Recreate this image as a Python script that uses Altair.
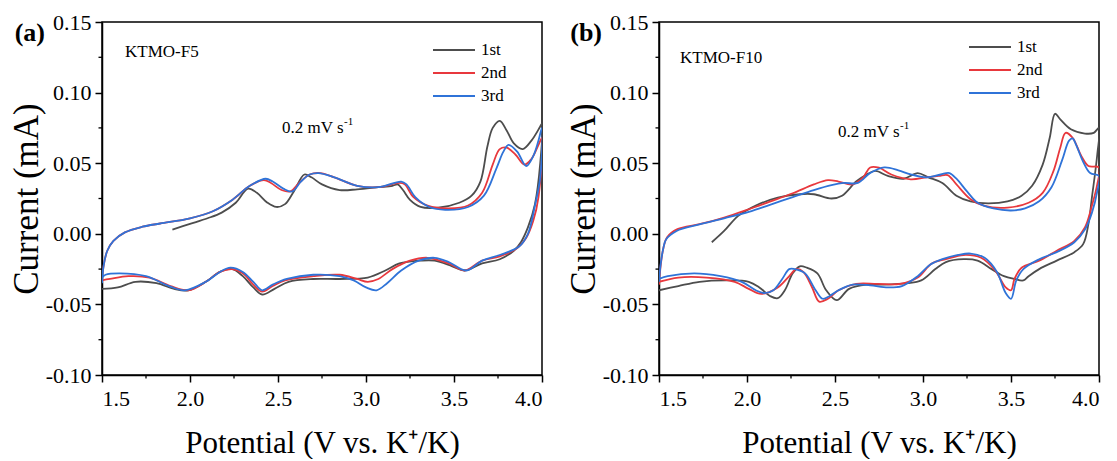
import altair as alt
import pandas as pd

CYCLES = ["1st", "2nd", "3rd"]
COLORS = ["#4d4d4d", "#e8383d", "#2f73d8"]

X_TICKS = [1.5, 2.0, 2.5, 3.0, 3.5, 4.0]
X_MINOR = [1.75, 2.25, 2.75, 3.25, 3.75]
Y_TICKS = [-0.10, -0.05, 0.0, 0.05, 0.10, 0.15]
Y_MINOR = [-0.075, -0.025, 0.025, 0.075, 0.125]

# ---------- Panel (a) KTMO-F5 ----------
A1_V = [1.90, 2.00, 2.10, 2.18, 2.26, 2.33, 2.38, 2.44, 2.49, 2.54, 2.59, 2.65, 2.69, 2.75, 2.85, 2.95,
        3.07, 3.15, 3.18, 3.21, 3.25, 3.31, 3.41, 3.53, 3.60, 3.65, 3.69, 3.72, 3.76, 3.80, 3.84, 3.89,
        3.94, 3.99, 4.00,
        3.99, 3.96, 3.92, 3.88, 3.84, 3.76, 3.66, 3.56, 3.49, 3.39, 3.31, 3.19, 3.11, 3.01, 2.85, 2.70,
        2.56, 2.48, 2.41, 2.36, 2.30, 2.24, 2.17, 2.09, 1.99, 1.91, 1.81, 1.69, 1.59, 1.50]
A1_I = [0.003, 0.007, 0.011, 0.015, 0.022, 0.032, 0.029, 0.022, 0.019, 0.021, 0.030, 0.042, 0.040, 0.035,
        0.031, 0.0315, 0.033, 0.034, 0.035, 0.031, 0.024, 0.019, 0.0185, 0.022, 0.027, 0.037, 0.062,
        0.075, 0.080, 0.073, 0.064, 0.060, 0.066, 0.076, 0.078,
        0.050, 0.021, 0.0045, -0.006, -0.012, -0.018, -0.021, -0.026, -0.023, -0.019, -0.019, -0.021,
        -0.026, -0.031, -0.032, -0.032, -0.034, -0.039, -0.043, -0.038, -0.030, -0.025, -0.027, -0.034,
        -0.040, -0.039, -0.035, -0.034, -0.038, -0.039]

A2_V = [1.50, 1.51, 1.53, 1.565, 1.63, 1.73, 1.83, 2.00, 2.13, 2.24, 2.34, 2.42, 2.46, 2.52, 2.57, 2.62,
        2.68, 2.74, 2.82, 2.95, 3.07, 3.19, 3.22, 3.27, 3.35, 3.47, 3.58, 3.66, 3.72, 3.76, 3.80, 3.85,
        3.90, 3.94, 3.98, 4.00,
        3.98, 3.95, 3.91, 3.86, 3.76, 3.66, 3.56, 3.47, 3.35, 3.25, 3.15, 3.07, 3.01, 2.95, 2.85, 2.70,
        2.54, 2.47, 2.41, 2.36, 2.30, 2.24, 2.17, 2.09, 1.99, 1.89, 1.77, 1.65, 1.545, 1.50]
A2_I = [-0.033, -0.022, -0.012, -0.005, 0.001, 0.005, 0.0073, 0.011, 0.016, 0.024, 0.034, 0.038, 0.036,
        0.031, 0.030, 0.036, 0.042, 0.043, 0.040, 0.034, 0.033, 0.036, 0.035, 0.026, 0.020, 0.018, 0.020,
        0.029, 0.049, 0.060, 0.061, 0.056, 0.049, 0.053, 0.063, 0.068,
        0.026, 0.009, -0.003, -0.010, -0.016, -0.019, -0.026, -0.021, -0.017, -0.019, -0.025, -0.032,
        -0.034, -0.032, -0.029, -0.030, -0.033, -0.037, -0.041, -0.036, -0.028, -0.025, -0.027, -0.034,
        -0.040, -0.037, -0.031, -0.030, -0.032, -0.033]

A3_V = [1.50, 1.51, 1.53, 1.565, 1.63, 1.73, 1.83, 2.00, 2.13, 2.24, 2.34, 2.43, 2.47, 2.53, 2.58, 2.63,
        2.68, 2.73, 2.82, 2.95, 3.07, 3.20, 3.23, 3.28, 3.36, 3.45, 3.58, 3.67, 3.74, 3.78, 3.81, 3.86,
        3.91, 3.95, 3.98, 4.00,
        3.99, 3.96, 3.92, 3.87, 3.76, 3.66, 3.57, 3.47, 3.39, 3.30, 3.20, 3.12, 3.06, 3.00, 2.93, 2.85,
        2.70, 2.55, 2.47, 2.41, 2.36, 2.30, 2.23, 2.17, 2.09, 1.97, 1.88, 1.75, 1.60, 1.52, 1.50]
A3_I = [-0.035, -0.022, -0.012, -0.005, 0.001, 0.005, 0.0073, 0.011, 0.016, 0.024, 0.034, 0.039, 0.037,
        0.032, 0.030, 0.037, 0.042, 0.043, 0.040, 0.034, 0.033, 0.037, 0.035, 0.026, 0.019, 0.017, 0.019,
        0.027, 0.046, 0.058, 0.063, 0.058, 0.048, 0.055, 0.066, 0.075,
        0.040, 0.020, 0.000, -0.009, -0.015, -0.019, -0.026, -0.020, -0.017, -0.019, -0.026, -0.035,
        -0.040, -0.038, -0.033, -0.030, -0.029, -0.032, -0.036, -0.040, -0.034, -0.027, -0.024, -0.027,
        -0.034, -0.040, -0.037, -0.030, -0.028, -0.029, -0.031]

# ---------- Panel (b) KTMO-F10 ----------
B1_V = [1.80, 1.87, 1.95, 2.05, 2.175, 2.30, 2.38, 2.48, 2.54, 2.62, 2.68, 2.73, 2.80, 2.89, 2.97, 3.03,
        3.11, 3.19, 3.27, 3.37, 3.48, 3.56, 3.62, 3.68, 3.72, 3.75, 3.78, 3.84, 3.92, 3.97, 4.00,
        3.99, 3.96, 3.94, 3.91, 3.86, 3.76, 3.66, 3.60, 3.57, 3.52, 3.46, 3.39, 3.31, 3.23, 3.13, 3.07,
        2.99, 2.91, 2.78, 2.68, 2.58, 2.51, 2.45, 2.40, 2.34, 2.30, 2.26, 2.215, 2.175, 2.13, 2.07, 2.01,
        1.89, 1.73, 1.61, 1.50]
B1_I = [-0.006, 0.002, 0.0127, 0.020, 0.0256, 0.028, 0.028, 0.025, 0.027, 0.037, 0.042, 0.0445, 0.041,
        0.039, 0.043, 0.040, 0.036, 0.027, 0.023, 0.0216, 0.023, 0.027, 0.034, 0.049, 0.068, 0.085, 0.081,
        0.074, 0.071, 0.0715, 0.075,
        0.056, 0.026, 0.007, -0.0073, -0.013, -0.019, -0.025, -0.030, -0.033, -0.032, -0.030, -0.025,
        -0.019, -0.018, -0.020, -0.025, -0.033, -0.035, -0.036, -0.036, -0.039, -0.047, -0.040, -0.028,
        -0.024, -0.023, -0.028, -0.040, -0.0456, -0.044, -0.038, -0.034, -0.033, -0.034, -0.037, -0.040]

B2_V = [1.50, 1.51, 1.525, 1.545, 1.605, 1.73, 1.87, 2.01, 2.13, 2.26, 2.38, 2.46, 2.52, 2.60, 2.66, 2.70,
        2.75, 2.82, 2.93, 3.02, 3.09, 3.14, 3.19, 3.27, 3.35, 3.48, 3.60, 3.68, 3.74, 3.78, 3.81, 3.85,
        3.90, 3.94, 4.00,
        3.99, 3.96, 3.92, 3.86, 3.76, 3.66, 3.56, 3.52, 3.50, 3.47, 3.41, 3.33, 3.23, 3.13, 3.05, 2.97,
        2.87, 2.74, 2.62, 2.52, 2.46, 2.41, 2.37, 2.32, 2.28, 2.24, 2.175, 2.08, 2.01, 1.93, 1.77, 1.61,
        1.50]
B2_I = [-0.036, -0.022, -0.010, -0.0026, 0.0033, 0.0068, 0.0115, 0.0174, 0.0228, 0.0287, 0.035, 0.038,
        0.037, 0.035, 0.040, 0.047, 0.0468, 0.042, 0.0386, 0.040, 0.041, 0.0416, 0.035, 0.0245, 0.0198,
        0.0186, 0.022, 0.029, 0.044, 0.061, 0.0715, 0.068, 0.055, 0.048, 0.047,
        0.035, 0.020, 0.0045, -0.005, -0.012, -0.019, -0.024, -0.032, -0.040, -0.038, -0.026, -0.017,
        -0.015, -0.018, -0.021, -0.031, -0.0355, -0.0355, -0.0355, -0.040, -0.046, -0.048, -0.038,
        -0.027, -0.025, -0.030, -0.038, -0.0426, -0.039, -0.034, -0.031, -0.031, -0.034]

B3_V = [1.50, 1.51, 1.525, 1.54, 1.60, 1.73, 1.87, 2.01, 2.13, 2.26, 2.38, 2.48, 2.55, 2.63, 2.70, 2.78,
        2.86, 2.93, 3.02, 3.10, 3.15, 3.19, 3.25, 3.31, 3.40, 3.50, 3.58, 3.66, 3.73, 3.79, 3.83, 3.85,
        3.87, 3.91, 3.95, 4.00,
        3.99, 3.96, 3.92, 3.86, 3.76, 3.66, 3.57, 3.53, 3.50, 3.47, 3.42, 3.35, 3.27, 3.20, 3.11, 3.04,
        2.97, 2.88, 2.80, 2.70, 2.60, 2.52, 2.47, 2.43, 2.39, 2.33, 2.27, 2.24, 2.20, 2.15, 2.10, 2.05,
        1.97, 1.85, 1.70, 1.55, 1.50]
B3_I = [-0.034, -0.021, -0.010, -0.004, 0.002, 0.0066, 0.011, 0.0155, 0.0205, 0.026, 0.031, 0.0345, 0.036,
        0.036, 0.043, 0.047, 0.045, 0.042, 0.040, 0.042, 0.043, 0.039, 0.030, 0.022, 0.018, 0.0165, 0.018,
        0.023, 0.033, 0.052, 0.066, 0.0675, 0.063, 0.051, 0.043, 0.041,
        0.030, 0.015, 0.003, -0.006, -0.013, -0.018, -0.025, -0.033, -0.046, -0.042, -0.027, -0.017,
        -0.014, -0.015, -0.018, -0.022, -0.030, -0.037, -0.038, -0.0365, -0.036, -0.040, -0.044, -0.046,
        -0.040, -0.028, -0.025, -0.025, -0.032, -0.040, -0.042, -0.040, -0.034, -0.030, -0.028, -0.030,
        -0.032]

FONT = "Liberation Serif"
W, H = 440, 353


def make_df(series):
    rows = []
    for name, (vs, cs) in zip(CYCLES, series):
        for k, (v, c) in enumerate(zip(vs, cs)):
            rows.append({"cycle": name, "idx": k, "V": v, "I": c})
    return pd.DataFrame(rows)


xscale = alt.Scale(domain=[1.5, 4.0], nice=False, zero=False)
yscale = alt.Scale(domain=[-0.10, 0.15], nice=False, zero=False)
xaxis = alt.Axis(values=X_TICKS, format=".1f", title="Potential (V vs. K\u207a/K)",
                 titlePadding=19, labelPadding=6, titleFontSize=31)
yaxis = alt.Axis(values=Y_TICKS, title="Current (mA)", titlePadding=1, labelPadding=4, titleFontSize=35,
                 labelExpr="datum.value < 0 ? '-' + format(-datum.value, '.2f') : format(datum.value, '.2f')")


def panel(series, letter, sample, sample_xy, rate_xy, leg_x, leg_y):
    df = make_df(series)
    lines = alt.Chart(df).mark_line(strokeWidth=1.8, interpolate="catmull-rom", clip=True).encode(
        x=alt.X("V:Q", scale=xscale, axis=xaxis),
        y=alt.Y("I:Q", scale=yscale, axis=yaxis),
        color=alt.Color("cycle:N", scale=alt.Scale(domain=CYCLES, range=COLORS), legend=None),
        order=alt.Order("idx:Q"),
    )
    xminor = alt.Chart(pd.DataFrame({"V": X_MINOR})).mark_rule(color="black", strokeWidth=1.3).encode(
        x=alt.X("V:Q", scale=xscale, axis=xaxis), y=alt.value(H), y2=alt.value(H + 3.5))
    yminor = alt.Chart(pd.DataFrame({"I": Y_MINOR})).mark_rule(color="black", strokeWidth=1.3).encode(
        y=alt.Y("I:Q", scale=yscale, axis=yaxis), x=alt.value(0), x2=alt.value(-3.5))
    one = pd.DataFrame({"t": [0]})
    layers = [lines, xminor, yminor]
    layers.append(alt.Chart(one).mark_text(text=letter, font=FONT, fontSize=26, fontWeight="bold",
                                           align="right", baseline="middle", color="black")
                  .encode(x=alt.value(-57), y=alt.value(11)))
    layers.append(alt.Chart(one).mark_text(text=sample, font=FONT, fontSize=17, align="left",
                                           baseline="middle", color="black")
                  .encode(x=alt.value(sample_xy[0]), y=alt.value(sample_xy[1])))
    layers.append(alt.Chart(one).mark_text(text="0.2 mV s", font=FONT, fontSize=17, align="left",
                                           baseline="middle", color="black")
                  .encode(x=alt.value(rate_xy[0]), y=alt.value(rate_xy[1])))
    layers.append(alt.Chart(one).mark_text(text="-1", font=FONT, fontSize=11, align="left",
                                           baseline="middle", color="black")
                  .encode(x=alt.value(rate_xy[0] + 62), y=alt.value(rate_xy[1] - 6)))
    for k, (name, col) in enumerate(zip(CYCLES, COLORS)):
        yy = leg_y + 23 * k
        layers.append(alt.Chart(one).mark_rule(color=col, strokeWidth=2)
                      .encode(x=alt.value(leg_x), x2=alt.value(leg_x + 42), y=alt.value(yy)))
        layers.append(alt.Chart(one).mark_text(text=name, font=FONT, fontSize=17, align="left",
                                               baseline="middle", color="black")
                      .encode(x=alt.value(leg_x + 48), y=alt.value(yy)))
    return alt.layer(*layers).properties(width=W, height=H)


pa = panel([(A1_V, A1_I), (A2_V, A2_I), (A3_V, A3_I)], "(a)", "KTMO-F5",
           (23, 30), (180, 106), 331, 28)
pb = panel([(B1_V, B1_I), (B2_V, B2_I), (B3_V, B3_I)], "(b)", "KTMO-F10",
           (21, 36), (179, 110), 310, 25)

chart = alt.hconcat(pa, pb, spacing=117, bounds="flush").properties(
    padding={"left": 0, "top": 2, "right": 5, "bottom": 0}
).configure_view(stroke="black", strokeWidth=1.5).configure_axis(
    labelFont=FONT, titleFont=FONT, labelFontSize=22, titleFontWeight="normal",
    labelColor="black", titleColor="black", domainColor="black", tickColor="black",
    grid=False, tickSize=7, tickWidth=1.5, domainWidth=1.5,
)

chart.save("out.html", embed_options={"renderer": "svg", "actions": False})
